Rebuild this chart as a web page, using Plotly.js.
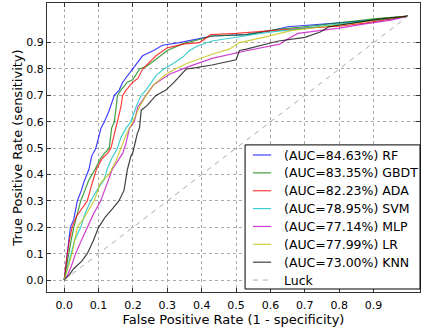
<!DOCTYPE html>
<html>
<head>
<meta charset="utf-8">
<script src="https://cdn.plot.ly/plotly-3.0.1.min.js"></script>
<style>html,body{margin:0;padding:0;background:#fff;}#chart{width:422px;height:330px;}</style>
</head>
<body>
<div id="chart"></div>
<script>
// Legend labels
const labels = ["(AUC=84.63%) RF", "(AUC=83.35%) GBDT", "(AUC=82.23%) ADA", "(AUC=78.95%) SVM",
                "(AUC=77.14%) MLP", "(AUC=77.99%) LR", "(AUC=73.00%) KNN"];
const luckLabel = "Luck";

// ROC points (false positive rate, true positive rate)
const rfX = [0,0.005,0.009,0.014,0.018,0.028,0.038,0.05,0.057,0.072,0.08,0.092,0.107,0.117,0.13,0.146,0.16,0.17,0.2,0.228,0.26,0.286,0.335,0.43,0.53,0.6,0.65,0.75,0.85,0.95,1];
const rfY = [0,0.05,0.1,0.16,0.2,0.23,0.3,0.34,0.37,0.42,0.47,0.5,0.576,0.6,0.64,0.7,0.72,0.75,0.8,0.85,0.87,0.89,0.9,0.925,0.93,0.945,0.96,0.97,0.98,0.99,1];

const gbdtX = [0,0.006,0.014,0.02,0.028,0.038,0.048,0.06,0.072,0.09,0.105,0.117,0.131,0.138,0.146,0.155,0.165,0.184,0.2,0.219,0.24,0.27,0.3,0.344,0.43,0.53,0.62,0.7,0.8,0.9,1];
const gbdtY = [0,0.05,0.1,0.15,0.2,0.25,0.3,0.34,0.38,0.42,0.46,0.48,0.5,0.576,0.6,0.7,0.72,0.75,0.76,0.8,0.81,0.84,0.87,0.895,0.925,0.93,0.95,0.96,0.975,0.99,1];

const adaX = [0,0.004,0.009,0.015,0.023,0.035,0.05,0.067,0.082,0.094,0.11,0.126,0.136,0.15,0.155,0.165,0.17,0.18,0.2,0.215,0.228,0.267,0.3,0.35,0.394,0.426,0.5,0.6,0.7,0.8,0.88,0.95,1];
const adaY = [0,0.05,0.1,0.15,0.2,0.24,0.27,0.3,0.37,0.42,0.46,0.48,0.5,0.576,0.6,0.656,0.7,0.72,0.75,0.765,0.8,0.85,0.88,0.895,0.9,0.93,0.935,0.945,0.955,0.962,0.975,0.99,1];

const svmX = [0,0.008,0.018,0.03,0.048,0.06,0.077,0.095,0.116,0.125,0.138,0.155,0.165,0.18,0.194,0.209,0.224,0.238,0.267,0.29,0.316,0.345,0.364,0.384,0.43,0.5,0.6,0.7,0.8,0.9,1];
const svmY = [0,0.04,0.1,0.15,0.2,0.25,0.3,0.34,0.38,0.42,0.46,0.5,0.54,0.576,0.6,0.656,0.7,0.72,0.775,0.8,0.82,0.845,0.869,0.885,0.906,0.92,0.94,0.955,0.97,0.985,1];

const mlpX = [0,0.01,0.02,0.033,0.05,0.067,0.085,0.106,0.125,0.14,0.17,0.18,0.19,0.204,0.214,0.238,0.26,0.306,0.364,0.43,0.53,0.627,0.645,0.68,0.8,0.87,0.95,1];
const mlpY = [0,0.02,0.05,0.1,0.15,0.2,0.25,0.3,0.37,0.42,0.48,0.52,0.576,0.6,0.656,0.7,0.74,0.78,0.81,0.84,0.869,0.894,0.91,0.935,0.955,0.97,0.985,1];

const lrX = [0,0.01,0.023,0.038,0.06,0.087,0.106,0.13,0.15,0.165,0.18,0.2,0.219,0.238,0.26,0.296,0.33,0.355,0.384,0.43,0.48,0.51,0.58,0.66,0.75,0.85,0.93,1];
const lrY = [0,0.04,0.1,0.2,0.24,0.3,0.37,0.4,0.45,0.5,0.55,0.6,0.656,0.7,0.74,0.78,0.805,0.82,0.834,0.856,0.875,0.9,0.92,0.945,0.96,0.975,0.99,1];

const knnX = [0,0.015,0.028,0.05,0.067,0.085,0.1,0.12,0.14,0.159,0.174,0.184,0.194,0.199,0.213,0.219,0.224,0.24,0.267,0.296,0.32,0.355,0.384,0.43,0.5,0.51,0.53,0.62,0.7,0.745,0.77,0.85,0.92,1];
const knnY = [0,0.02,0.044,0.07,0.1,0.15,0.2,0.24,0.27,0.3,0.34,0.42,0.47,0.48,0.557,0.576,0.644,0.66,0.7,0.72,0.75,0.8,0.805,0.815,0.835,0.87,0.875,0.905,0.92,0.94,0.96,0.975,0.99,1];

const luckX = [0, 1];
const luckY = [0, 1];

const tickVals = [0,0.1,0.2,0.3,0.4,0.5,0.6,0.7,0.8,0.9];

const colors = ["#0000ff", "#008000", "#ff0000", "#00bfbf", "#bf00bf", "#bfbf00", "#000000"];
const luckColor = "#aaaaaa";
const xs = [rfX, gbdtX, adaX, svmX, mlpX, lrX, knnX];
const ys = [rfY, gbdtY, adaY, svmY, mlpY, lrY, knnY];

const traces = xs.map((x, i) => ({
  x: x, y: ys[i], type: "scatter", mode: "lines", name: labels[i],
  line: {color: colors[i], width: 1.2}, opacity: 0.75, showlegend: false
}));
traces.push({
  x: luckX, y: luckY, type: "scatter", mode: "lines", name: luckLabel,
  line: {color: luckColor, width: 1, dash: "5px,5px"}, showlegend: false
});

// Legend box drawn in paper coordinates (matplotlib-like compact legend)
const legLeft = 0.531, legRight = 1.0, legTop = 0.509, legBottom = 0.0104;
const rowTop = 0.474, rowStep = 0.0618;
const sampleX0 = 0.552, sampleX1 = 0.601, textX = 0.63;
const allLabels = labels.concat([luckLabel]);
const allColors = colors.concat([luckColor]);
const shapes = [{
  type: "rect", xref: "paper", yref: "paper", x0: legLeft, x1: legRight, y0: legBottom, y1: legTop,
  fillcolor: "#ffffff", line: {color: "#000000", width: 1}, layer: "above"
}];
const annotations = [];
allLabels.forEach((lab, i) => {
  const yy = rowTop - i * rowStep;
  const isLuck = i === allLabels.length - 1;
  shapes.push({
    type: "line", xref: "paper", yref: "paper", x0: sampleX0, x1: sampleX1, y0: yy, y1: yy,
    line: {color: allColors[i], width: isLuck ? 1 : 1.2, dash: isLuck ? "5px,5px" : "solid"},
    opacity: isLuck ? 1 : 0.75, layer: "above"
  });
  annotations.push({
    xref: "paper", yref: "paper", x: textX, y: yy, xanchor: "left", yanchor: "middle",
    text: lab, showarrow: false, font: {size: 12.5, color: "#000", family: "DejaVu Sans"}
  });
});

const axisCommon = {
  tickvals: tickVals, tickformat: ".1f",
  showgrid: true, gridcolor: "#aaaaaa", griddash: "dot", gridwidth: 1,
  zeroline: false, showline: true, linecolor: "#333333", linewidth: 1, mirror: "ticks",
  ticks: "inside", ticklen: 4, tickcolor: "#333333",
  tickfont: {size: 11, color: "#000"}
};

const layout = {
  width: 422, height: 330,
  margin: {l: 47, r: 2, t: 3, b: 38},
  paper_bgcolor: "#fff", plot_bgcolor: "#fff",
  font: {family: "DejaVu Sans", color: "#000"},
  showlegend: false,
  shapes: shapes,
  annotations: annotations,
  xaxis: Object.assign({}, axisCommon, {
    range: [-0.05, 1.035], ticklabelstandoff: 3,
    title: {text: "False Positive Rate (1 - specificity)", font: {size: 13}, standoff: 0}
  }),
  yaxis: Object.assign({}, axisCommon, {
    range: [-0.045, 1.05],
    title: {text: "True Positive Rate (sensitivity)", font: {size: 13}, standoff: 0}
  })
};

Plotly.newPlot("chart", traces, layout, {displayModeBar: false, staticPlot: true});
</script>
</body>
</html>
